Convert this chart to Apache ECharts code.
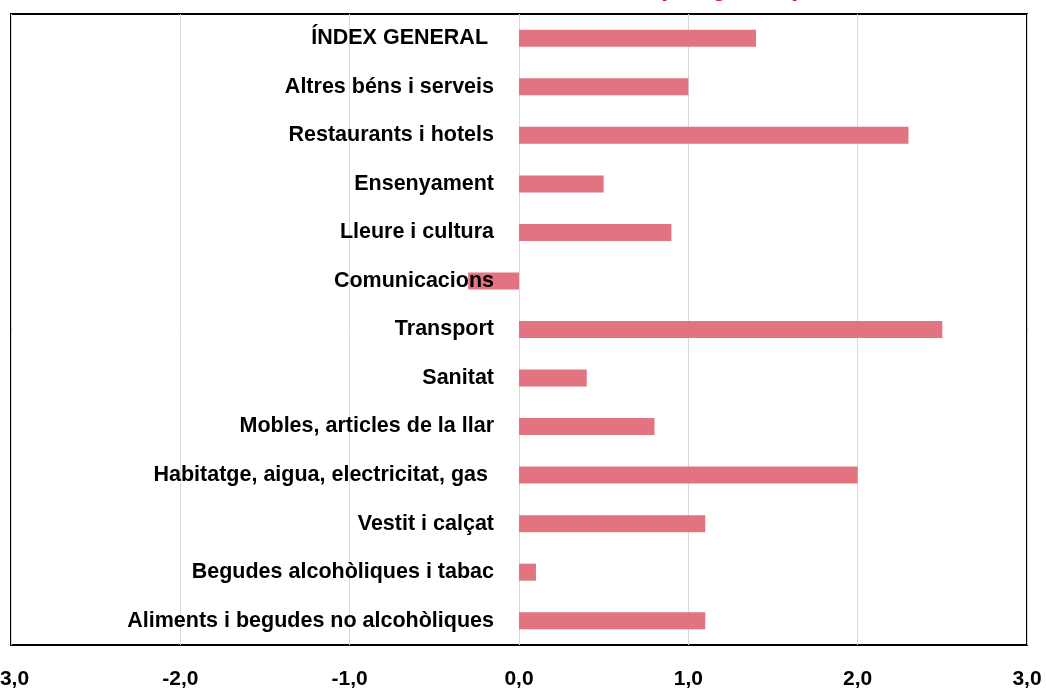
<!DOCTYPE html>
<html>
<head>
<meta charset="utf-8">
<script src="https://cdn.jsdelivr.net/npm/echarts@6/dist/echarts.min.js"></script>
<style>
html,body{margin:0;padding:0;background:#fff;}
#chart{width:1046px;height:691px;}
</style>
</head>
<body>
<div id="chart"></div>
<script>
// Categories from bottom to top (as drawn)
const categories = [
  'Aliments i begudes no alcohòliques',
  'Begudes alcohòliques i tabac',
  'Vestit i calçat',
  'Habitatge, aigua, electricitat, gas ',
  'Mobles, articles de la llar',
  'Sanitat',
  'Transport',
  'Comunicacions',
  'Lleure i cultura',
  'Ensenyament',
  'Restaurants i hotels',
  'Altres béns i serveis',
  'ÍNDEX GENERAL '
];
const values = [1.1, 0.1, 1.1, 2.0, 0.8, 0.4, 2.5, -0.3, 0.9, 0.5, 2.3, 1.0, 1.4];
const titleText = '(maig 2019)';

const chart = echarts.init(document.getElementById('chart'));
const FONT = '"Liberation Sans", Arial, sans-serif';
const GRID_LEFT = 11, GRID_RIGHT = 19, XMIN = -3, XMAX = 3;
const gridWidth = 1046 - GRID_LEFT - GRID_RIGHT;
// shift the category axis onto the value 0 position of the value axis
const zeroOffset = -gridWidth * (0 - XMIN) / (XMAX - XMIN);
chart.setOption({
  animation: false,
  graphic: [{
    type: 'text',
    left: 658,
    top: -24,
    z: 10,
    style: {
      text: titleText,
      fill: '#e0141e',
      font: 'bold 26px "Liberation Sans", Arial, sans-serif'
    }
  }],
  grid: {
    left: GRID_LEFT, right: GRID_RIGHT, top: 14, bottom: 46,
    containLabel: false,
    outerBoundsMode: 'none',
    show: true,
    borderColor: '#000',
    borderWidth: 2,
    backgroundColor: 'transparent'
  },
  xAxis: {
    type: 'value',
    min: XMIN, max: XMAX, interval: 1,
    axisLine: {show: false},
    axisTick: {show: false},
    splitLine: {show: true, lineStyle: {color: '#d9d9d9', width: 1}},
    axisLabel: {
      margin: 24,
      color: '#000',
      fontFamily: FONT,
      fontWeight: 'bold',
      fontSize: 21,
      formatter: v => v.toFixed(1).replace('.', ',')
    }
  },
  yAxis: {
    type: 'category',
    data: categories,
    position: 'left',
    offset: zeroOffset,
    z: 5,
    axisLine: {show: false, onZero: false},
    axisTick: {show: false},
    splitLine: {show: false},
    axisLabel: {
      margin: 25,
      color: '#000',
      fontFamily: FONT,
      fontWeight: 'bold',
      fontSize: 21.5
    }
  },
  series: [{
    type: 'bar',
    data: values,
    barWidth: 17,
    itemStyle: {color: '#e27380'}
  }]
});
</script>
</body>
</html>
